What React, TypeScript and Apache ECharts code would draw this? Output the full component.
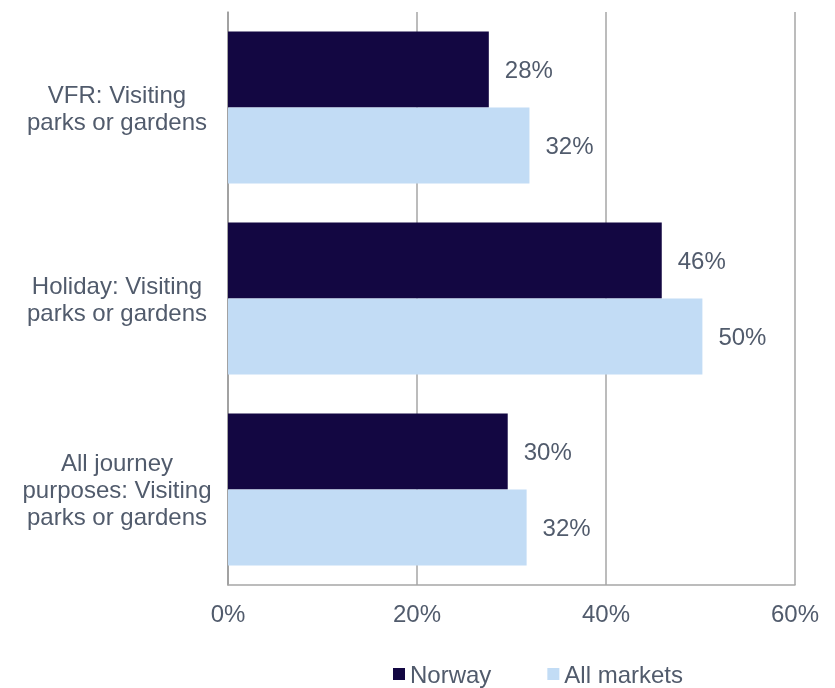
import React, { useEffect, useRef } from "react";
import * as echarts from "echarts";

const categories = [
  "VFR: Visiting\nparks or gardens",
  "Holiday: Visiting\nparks or gardens",
  "All journey\npurposes: Visiting\nparks or gardens",
];
const norway = [27.6, 45.9, 29.6];
const allMarkets = [31.9, 50.2, 31.6];
const xTicks = [0, 20, 40, 60];

const TEXT = "#515B6C";
const FONT = "'Liberation Sans', Arial, sans-serif";

export default function App() {
  const ref = useRef<HTMLDivElement>(null);
  useEffect(() => {
    if (!ref.current) return;
    const chart = echarts.init(ref.current, undefined, { renderer: "svg" });
    chart.setOption({
      animation: false,
      textStyle: { fontFamily: FONT },
      grid: { left: 228, right: 40, top: 12, bottom: 103, containLabel: false },
      legend: {
        data: ["Norway", "All markets"],
        left: 393,
        top: 662,
        padding: 0,
        itemWidth: 12,
        itemHeight: 12,
        itemGap: 56,
        icon: "rect",
        textStyle: { color: TEXT, fontSize: 24, fontFamily: FONT },
      },
      xAxis: {
        type: "value",
        min: xTicks[0],
        max: xTicks[xTicks.length - 1],
        interval: 20,
        axisLabel: {
          formatter: (v: number) => v + "%",
          color: TEXT,
          fontSize: 24,
          fontFamily: FONT,
          margin: 16,
        },
        axisLine: { show: true, lineStyle: { color: "#A6A6A6", width: 1.5 } },
        axisTick: { show: false },
        splitLine: { show: true, lineStyle: { color: "#A6A6A6", width: 1.5 } },
      },
      yAxis: {
        type: "category",
        inverse: true,
        data: categories,
        axisLine: { show: true, lineStyle: { color: "#9A9A9A", width: 1.5 } },
        axisTick: { show: false },
        axisLabel: {
          color: TEXT,
          fontSize: 24,
          fontFamily: FONT,
          align: "center",
          margin: 111,
          lineHeight: 27,
        },
      },
      series: [
        {
          name: "Norway",
          type: "bar",
          data: norway,
          barGap: "0%",
          barCategoryGap: "20.4%",
          itemStyle: { color: "#130742" },
          label: {
            show: true,
            position: "right",
            distance: 16,
            color: TEXT,
            fontSize: 24,
            fontFamily: FONT,
            formatter: (p: any) => Math.round(p.value) + "%",
          },
        },
        {
          name: "All markets",
          type: "bar",
          data: allMarkets,
          barGap: "0%",
          barCategoryGap: "20.4%",
          itemStyle: { color: "#C2DCF5" },
          label: {
            show: true,
            position: "right",
            distance: 16,
            color: TEXT,
            fontSize: 24,
            fontFamily: FONT,
            formatter: (p: any) => Math.round(p.value) + "%",
          },
        },
      ],
    });
    return () => chart.dispose();
  }, []);
  return (
    <div
      ref={ref}
      style={{ position: "fixed", left: 0, top: 0, width: 835, height: 688 }}
    />
  );
}
